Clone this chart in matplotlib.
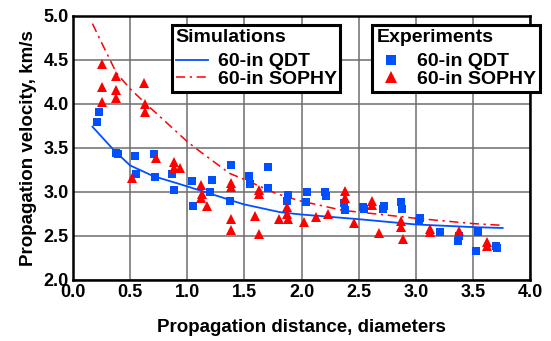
import matplotlib
matplotlib.use("Agg")
import matplotlib.pyplot as plt
from matplotlib.lines import Line2D

plt.rcParams['font.family'] = ['Liberation Sans', 'DejaVu Sans']
plt.rcParams['font.weight'] = 'bold'

# Simulation curves
sim_qdt_x = [0.17, 0.36, 0.5, 0.7, 0.93, 1.2, 1.49, 1.81, 1.98, 2.5, 3.0, 3.5, 3.76]
sim_qdt_y = [3.74, 3.47, 3.30, 3.18, 3.09, 2.98, 2.86, 2.77, 2.745, 2.69, 2.63, 2.60, 2.59]
sim_sophy_x = [0.17, 0.24, 0.38, 0.5, 0.63, 1.0, 1.11, 1.37, 1.52, 1.78, 1.98, 2.36, 2.86, 3.0, 3.5, 3.76]
sim_sophy_y = [4.91, 4.72, 4.35, 4.17, 4.01, 3.57, 3.46, 3.21, 3.13, 2.98, 2.90, 2.79, 2.72, 2.70, 2.64, 2.62]

# Experiments
exp_qdt_x = [0.21, 0.23, 0.38, 0.39, 0.54, 0.71, 0.55, 0.72, 0.87, 0.88, 1.04, 1.05, 1.20, 1.215,
             1.38, 1.37, 1.54, 1.55, 1.71, 1.71, 1.88, 1.87, 2.05, 2.04, 2.205, 2.21, 2.37, 2.38,
             2.54, 2.55, 2.71, 2.72, 2.87, 2.88, 3.04, 3.03, 3.21, 3.38, 3.37, 3.54, 3.53, 3.70, 3.71]
exp_qdt_y = [3.79, 3.91, 3.445, 3.43, 3.41, 3.43, 3.20, 3.165, 3.20, 3.02, 3.12, 2.84, 2.995, 3.13,
             3.31, 2.90, 3.18, 3.09, 3.28, 3.04, 2.96, 2.90, 3.00, 2.88, 3.00, 2.955, 2.87, 2.795,
             2.83, 2.80, 2.81, 2.84, 2.88, 2.80, 2.70, 2.67, 2.55, 2.50, 2.44, 2.54, 2.33, 2.39, 2.36]
exp_sophy_x = [0.25, 0.38, 0.25, 0.62, 0.38, 0.38, 0.25, 0.63, 0.63, 0.52, 0.73, 0.88, 0.88, 0.94,
               1.12, 1.125, 1.12, 1.17, 1.38, 1.38, 1.38, 1.38, 1.63, 1.63, 1.59, 1.63, 1.80,
               1.875, 1.875, 1.88, 2.02, 2.13, 2.23, 2.38, 2.38, 2.46, 2.62, 2.62, 2.68, 2.87,
               2.87, 2.89, 3.12, 3.12, 3.375, 3.62, 3.62]
exp_sophy_y = [4.45, 4.32, 4.19, 4.24, 4.16, 4.07, 4.02, 4.00, 3.91, 3.155, 3.39, 3.34, 3.27, 3.27,
               3.08, 2.98, 2.93, 2.84, 3.10, 3.05, 2.69, 2.57, 3.02, 2.98, 2.73, 2.52, 2.69,
               2.83, 2.745, 2.69, 2.66, 2.72, 2.75, 3.01, 2.93, 2.65, 2.90, 2.85, 2.53, 2.67,
               2.60, 2.47, 2.575, 2.54, 2.56, 2.43, 2.39]

x_ticks = [0.0, 0.5, 1.0, 1.5, 2.0, 2.5, 3.0, 3.5, 4.0]
y_ticks = [2.0, 2.5, 3.0, 3.5, 4.0, 4.5, 5.0]

BLUE = '#0050ff'
RED = '#ff0000'

fig = plt.figure(figsize=(5.51, 3.41), dpi=100)
ax = fig.add_axes([0.1325, 0.179, 0.8295, 0.775])

ax.grid(True, color='#6e6e6e', linewidth=1.1, zorder=0)
ax.set_axisbelow(True)

ax.plot(sim_qdt_x, sim_qdt_y, color=BLUE, linewidth=1.3, zorder=3)
ax.plot(sim_sophy_x, sim_sophy_y, color=RED, linewidth=1.1, dashes=[6, 3, 1.5, 3], zorder=3)
ax.plot(exp_qdt_x, exp_qdt_y, linestyle='none', marker='s', markersize=5.4,
        color=BLUE, markeredgewidth=0, zorder=4)
ax.plot(exp_sophy_x, exp_sophy_y, linestyle='none', marker='^', markersize=7,
        color=RED, markeredgewidth=0, zorder=4)

ax.set_xlim(0, 4)
ax.set_ylim(2, 5)
ax.set_xticks(x_ticks)
ax.set_yticks(y_ticks)
ax.set_xticklabels([f"{v:.1f}" for v in x_ticks], fontsize=13, fontweight='bold')
ax.set_yticklabels([f"{v:.1f}" for v in y_ticks], fontsize=13, fontweight='bold')
ax.tick_params(length=0, pad=3)
for s in ax.spines.values():
    s.set_linewidth(1.8)
    s.set_color('black')

ax.set_xlabel("Propagation distance, diameters", fontsize=13.5, fontweight='bold', labelpad=13)
ax.set_ylabel("Propagation velocity, km/s", fontsize=13.5, fontweight='bold', labelpad=5)

sim_handles = [Line2D([], [], color=BLUE, linewidth=1.3),
               Line2D([], [], color=RED, linewidth=1.1, dashes=[6, 3, 1.5, 3])]
exp_handles = [Line2D([], [], color=BLUE, marker='s', linestyle='none', markersize=7.5, markeredgewidth=0),
               Line2D([], [], color=RED, marker='^', linestyle='none', markersize=9, markeredgewidth=0)]
labels = ["60-in QDT", "60-in SOPHY"]

common = dict(loc='upper left', bbox_transform=fig.transFigure, borderaxespad=0,
              fancybox=False, edgecolor='black', framealpha=1,
              prop={'size': 14, 'weight': 'bold'}, title_fontproperties={'size': 14, 'weight': 'bold'},
              labelspacing=0.0, borderpad=0.2, alignment='left')

leg1 = ax.legend(sim_handles, labels, title="Simulations", bbox_to_anchor=(0.312, 0.927),
                 handlelength=1.65, handletextpad=0.5, **common)
leg1.get_frame().set_linewidth(2.2)
leg1._legend_box.sep = 5
ax.add_artist(leg1)
leg2 = ax.legend(exp_handles, labels, title="Experiments", bbox_to_anchor=(0.676, 0.927),
                 handlelength=1.5, handletextpad=0.6, **common)
leg2.get_frame().set_linewidth(2.2)
leg2._legend_box.sep = 5
leg2.set_clip_on(False)

fig.savefig("out.png", dpi=100)
